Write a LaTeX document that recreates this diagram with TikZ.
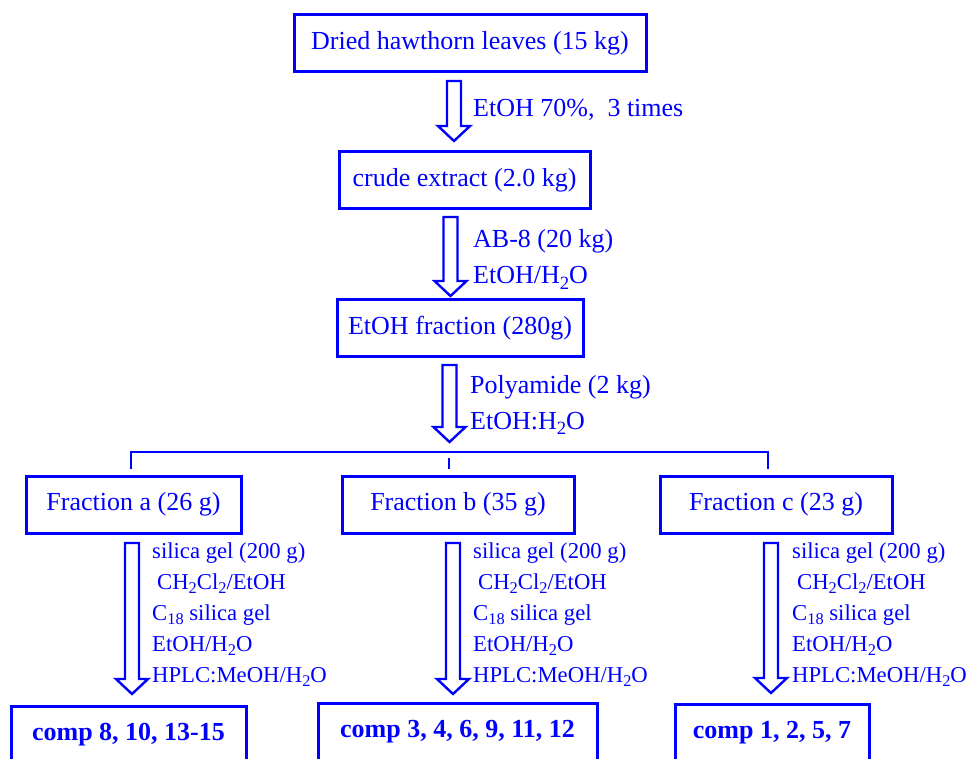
\documentclass[tikz,border=0pt]{standalone}
\usepackage{fontspec}
\setmainfont{Liberation Serif}
\newcommand{\lowsub}[1]{\raisebox{-0.22em}{\scalebox{0.72}{#1}}}

\begin{document}
\begin{tikzpicture}[x=1pt,y=-1pt,
    box/.style={draw=blue,line width=3pt,minimum height=57pt,inner sep=0pt,text=blue,font=\fontsize{26}{30}\selectfont},
    hollow/.style={draw=blue,line width=2.4pt,line join=miter},
    steptext/.style={anchor=base west,inner sep=0pt,text=blue,font=\fontsize{26}{30}\selectfont},
    sidetext/.style={anchor=base west,inner sep=0pt,text=blue,align=left,font=\fontsize{22.7}{31}\selectfont}]
        \useasboundingbox (0,0) rectangle (967,759);
        % main chain
        \node[box,minimum width=352pt] (leaves) at (470,43.5) {Dried hawthorn leaves (15 kg)};
        \node[box,minimum width=251pt] (crude) at (464.5,180) {crude extract (2.0 kg)};
        \node[box,minimum width=246pt] (etoh) at (460,328.5) {EtOH fraction (280g)};
        \node[box,minimum width=215pt] (fa) at (133.5,504.5) {Fraction a (26 g)};
        \node[box,minimum width=232pt] (fb) at (458,504.5) {Fraction b (35 g)};
        \node[box,minimum width=232pt] (fc) at (776,504.5) {Fraction c (23 g)};
        \node[box,minimum width=235pt,font=\fontsize{26}{30}\selectfont\bfseries] (ca) at (128.5,734.5) {comp 8, 10, 13-15};
        \node[box,minimum width=279pt,font=\fontsize{26}{30}\selectfont\bfseries] (cb) at (457.5,731.5) {comp 3, 4, 6, 9, 11, 12};
        \node[box,minimum width=194pt,font=\fontsize{26}{30}\selectfont\bfseries] (cc) at (772,732.5) {comp 1, 2, 5, 7};
        % hollow arrows
        \foreach \x/\ya/\yb in {454/81/141, 450.5/217/296, 449.5/365/442, 132/543/694, 453/543/694, 771/543/693}
          \draw[hollow] (\x-7,\ya) -- (\x+7,\ya) -- (\x+7,\yb-15) -- (\x+16,\yb-15) -- (\x,\yb)
            -- (\x-16,\yb-15) -- (\x-7,\yb-15) -- cycle;
        % bracket
        \coordinate (ba) at (131,469);
        \coordinate (bb) at (449,469);
        \coordinate (bc) at (768,469);
        \draw[blue,line width=2.4pt] (ba) -- (131,452) -- (768,452) -- (bc);
        \draw[blue,line width=2.4pt] (bb) -- (449,458);
        % step labels
        \node[steptext] (s1) at (473,117) {EtOH 70\%,\ \ 3 times};
        \node[steptext] (s2) at (473,248) {AB-8 (20 kg)};
        \node[steptext] (s3) at (473,284) {EtOH/H\lowsub{2}O};
        \node[steptext] (s4) at (470,393) {Polyamide (2 kg)};
        \node[steptext] (s5) at (470,429) {EtOH:H\lowsub{2}O};
        % base of a multi-line node is its last line
        \foreach \x/\n in {152/la, 473/lb, 792/lc}
          \node[sidetext] (\n) at (\x,682) {silica gel (200 g)\\
            \hspace{5pt}CH\lowsub{2}Cl\lowsub{2}/EtOH\\
            C\lowsub{18} silica gel\\
            EtOH/H\lowsub{2}O\\
            HPLC:MeOH/H\lowsub{2}O};
      \end{tikzpicture}
\end{document}
